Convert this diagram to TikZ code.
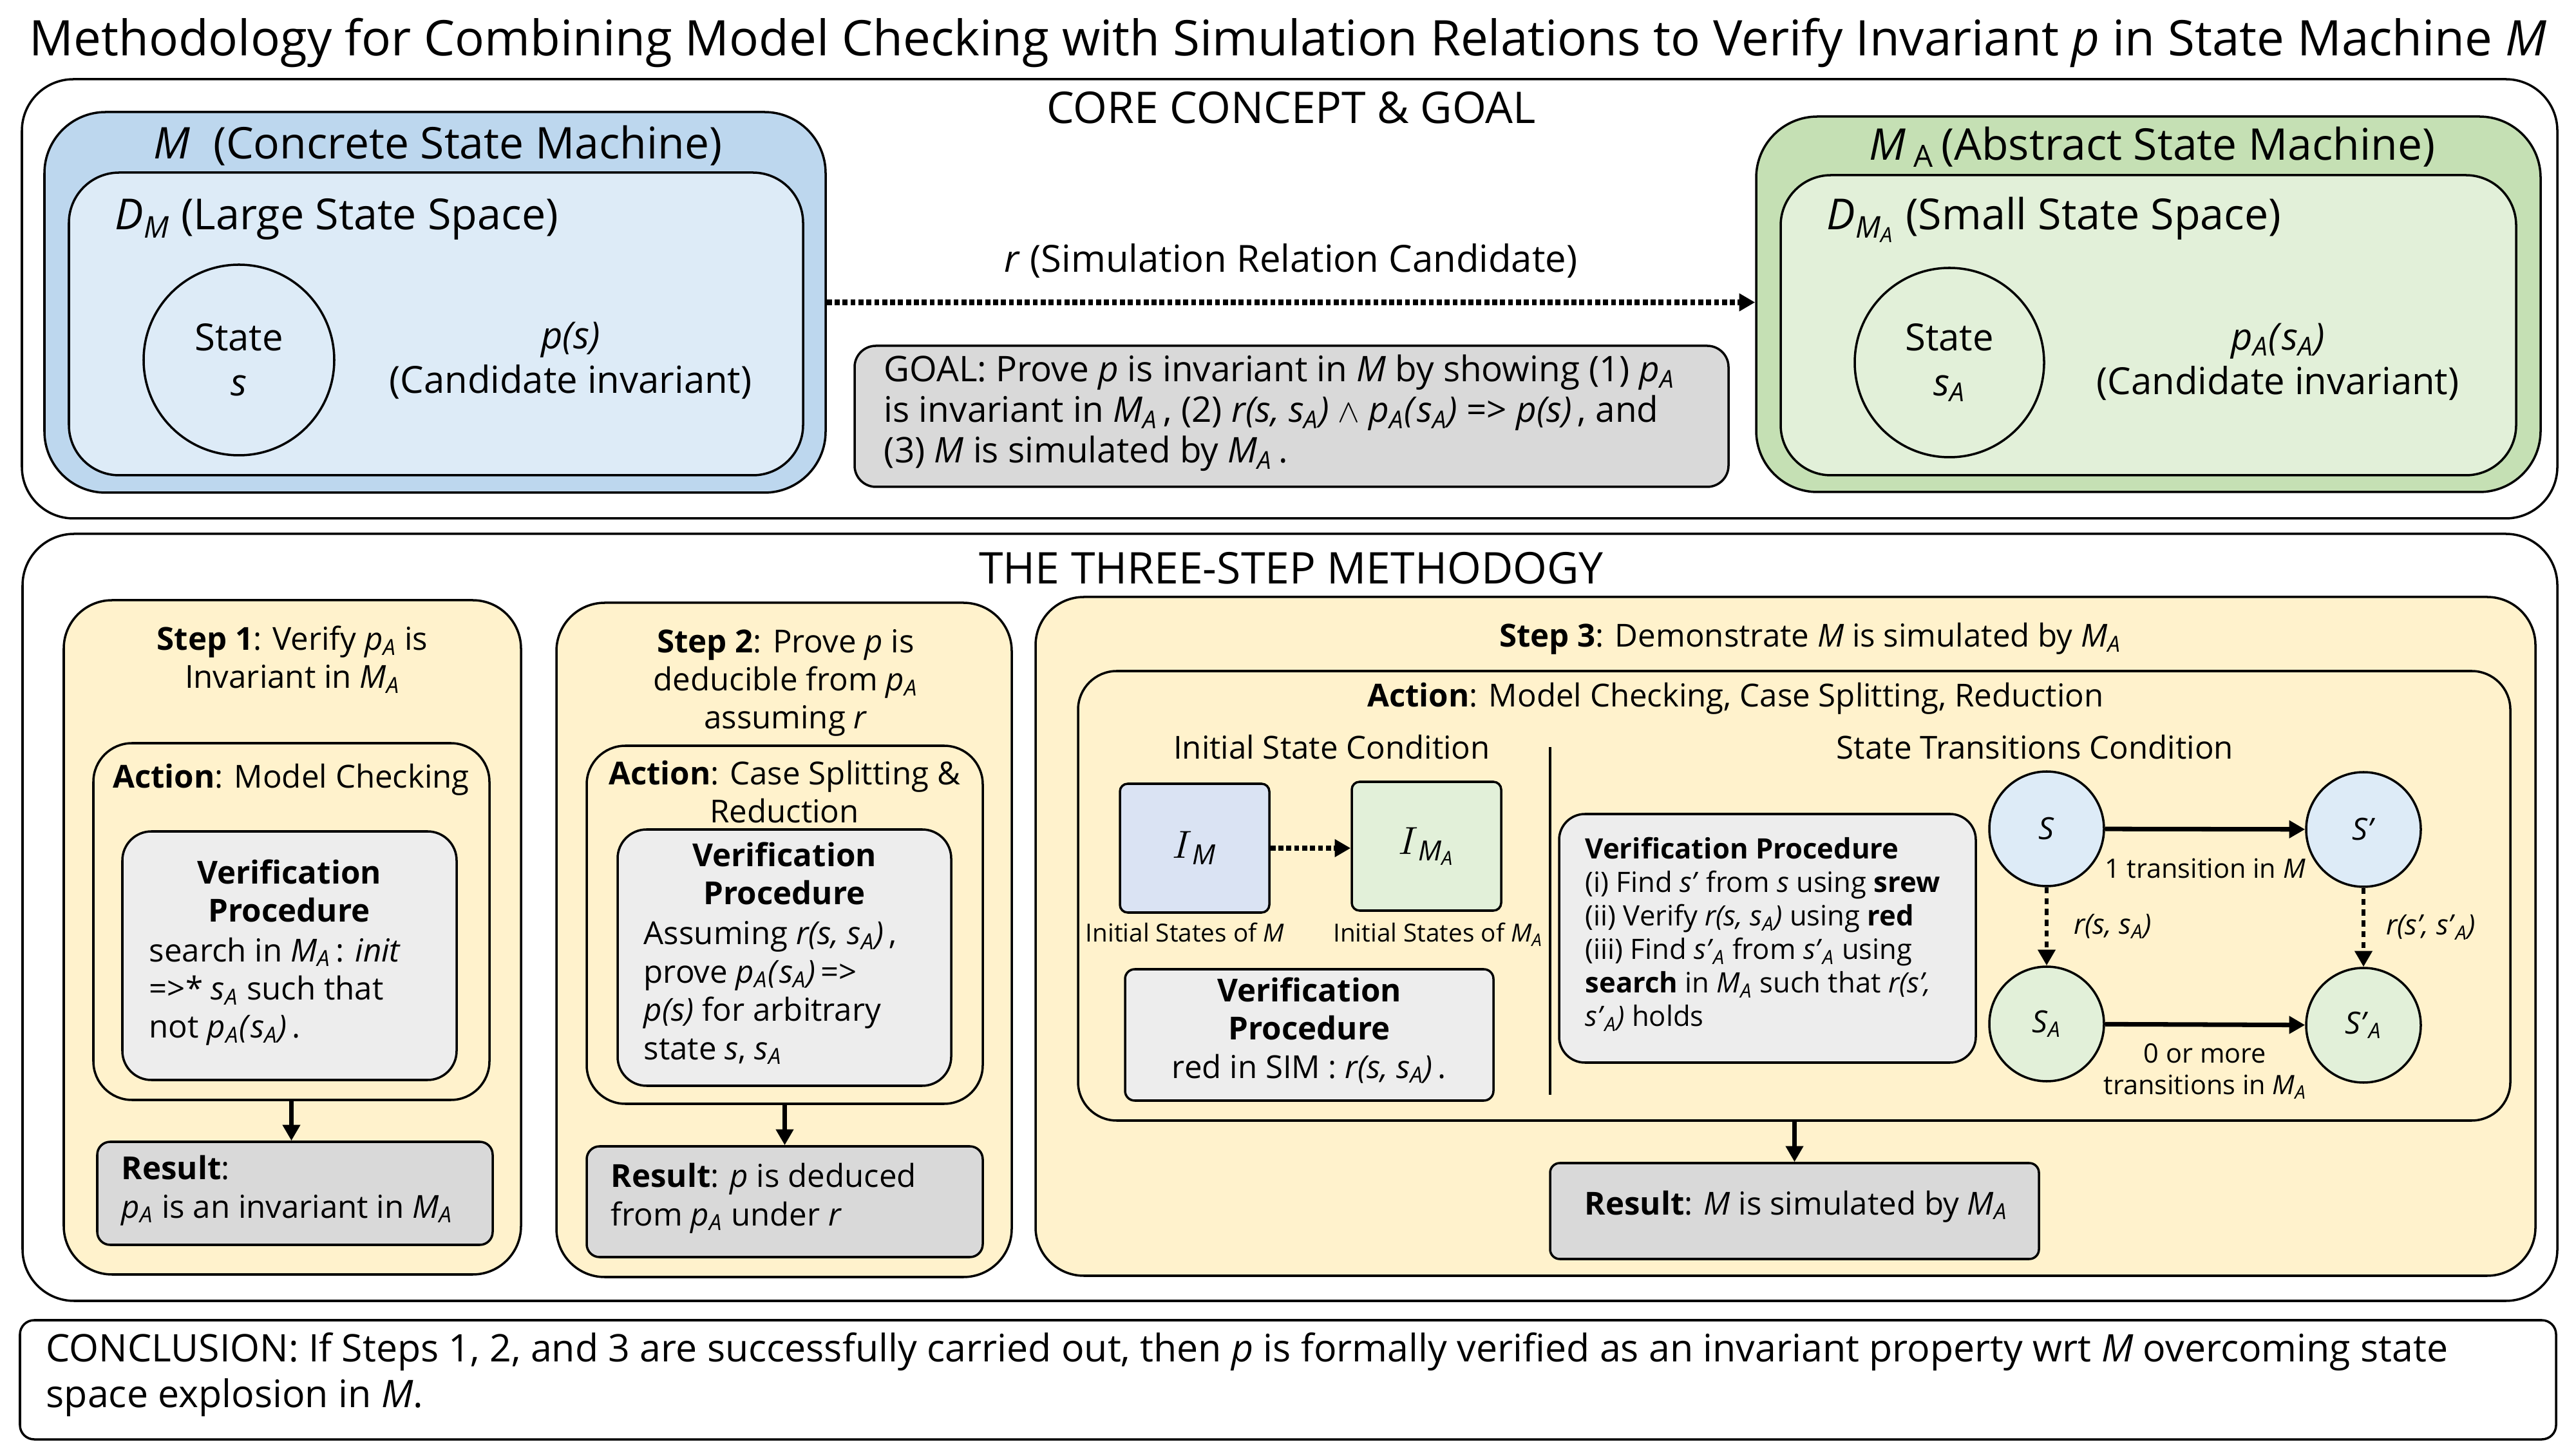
\documentclass[tikz,border=0pt]{standalone}
\usepackage{fontspec}
\setmainfont{Open Sans}
\usepackage{tikz}
\usetikzlibrary{arrows.meta,positioning}

\definecolor{machblue}{HTML}{BDD7EE}
\definecolor{spaceblue}{HTML}{DDEBF7}
\definecolor{machgreen}{HTML}{C5E0B4}
\definecolor{spacegreen}{HTML}{E2F0D9}
\definecolor{stepyellow}{HTML}{FFF2CC}
\definecolor{resultgray}{HTML}{D9D9D9}
\definecolor{procgray}{HTML}{EDEDED}
\definecolor{initblue}{HTML}{DAE3F3}

\newcommand{\MA}{\textit{M}\textsubscript{\textit{A}}}
\newcommand{\pA}{\textit{p}\textsubscript{\textit{A}}}
\newcommand{\sA}{\textit{s}\textsubscript{\textit{A}}}
\newcommand{\rss}{\textit{r(s, }\sA\textit{)}}
\newcommand{\pAsA}{\pA\textit{(}\sA\textit{)}}

\tikzset{
  box/.style={draw, rectangle, line width=1pt, inner sep=0pt},
  txt/.style={inner sep=0pt, anchor=base},
  dotarrow/.style={->, line width=2.5pt, dash pattern=on 2.2pt off 1.3pt},
  f22/.style={font=\fontsize{21.7}{26}\selectfont},
  f19/.style={font=\fontsize{19.3}{23}\selectfont},
  f18/.style={font=\fontsize{18.9}{22.5}\selectfont},
  f16/.style={font=\fontsize{16.5}{19.8}\selectfont},
  f15/.style={font=\fontsize{15.6}{18}\selectfont},
  f14/.style={font=\fontsize{14}{16.9}\selectfont},
  f13/.style={font=\fontsize{13.5}{16}\selectfont},
  f12/.style={font=\fontsize{12.4}{14.8}\selectfont},
  f11/.style={font=\fontsize{11.8}{14}\selectfont},
  f10/.style={font=\fontsize{11}{13}\selectfont},
}

\begin{document}
\begin{tikzpicture}[>={Triangle[length=7pt,width=7.5pt]}, line width=1pt]
\useasboundingbox (0,0) rectangle (40,-22.5);

\node[txt, f22] (title) at (20,-0.87) {Methodology for Combining Model Checking with Simulation Relations to Verify Invariant \textit{p} in State Machine \textit{M}};

\node[box, rounded corners=0.8cm, minimum width=39.37cm, minimum height=6.82cm] (core) at (20.025,-4.64) {};
\node[txt, f19] (coretitle) at (20.05,-1.92) {CORE CONCEPT \& GOAL};

\node[box, rounded corners=0.95cm, fill=machblue, minimum width=12.13cm, minimum height=5.91cm] (mach) at (6.755,-4.695) {};
\node[txt, f19] (machtitle) at (6.8,-2.47) {\textit{M}~ (Concrete State Machine)};
\node[box, rounded corners=0.78cm, fill=spaceblue, minimum width=11.4cm, minimum height=4.7cm] (space) at (6.77,-5.03) {};
\node[txt, f18, anchor=base west] (spacetitle) at (1.77,-3.57) {\textit{D}\textsubscript{\textit{M}} (Large State Space)};
\node[draw, circle, line width=1pt, minimum size=2.96cm, inner sep=0pt, align=center, f16] (state) at (3.71,-5.59) {State\\\textit{s}};
\node[align=center, f16, inner sep=0pt] (inv) at (8.86,-5.6) {\textit{p(s)}\\(Candidate invariant)};

\node[box, rounded corners=0.95cm, fill=machgreen, minimum width=12.18cm, minimum height=5.83cm] (amach) at (33.36,-4.725) {};
\node[txt, f19] (amachtitle) at (33.42,-2.49) {\textit{M}\,\textsubscript{A}\,(Abstract State Machine)};
\node[box, rounded corners=0.78cm, fill=spacegreen, minimum width=11.42cm, minimum height=4.66cm] (aspace) at (33.36,-5.05) {};
\node[txt, f18, anchor=base west] (aspacetitle) at (28.35,-3.57) {\textit{D}\textsubscript{\textit{M}\textsubscript{\textit{A}}} (Small State Space)};
\node[draw, circle, line width=1pt, minimum size=2.94cm, inner sep=0pt, align=center, f16] (astate) at (30.27,-5.63) {State\\\sA};
\node[align=center, f16, inner sep=0pt] (ainv) at (35.37,-5.62) {\pAsA\\(Candidate invariant)};

\draw[dotarrow] (mach.east) -- (mach.east -| amach.west)
  node[midway, above=0.33cm, f16, inner sep=0pt] (rel) {\textit{r} (Simulation Relation Candidate)};

\node[box, rounded corners=0.33cm, fill=resultgray, minimum width=13.57cm, minimum height=2.19cm] (goal) at (20.055,-6.465) {};
\node[txt, f15, anchor=base west, align=left] (goaltext) at (13.71,-7.19) {GOAL: Prove \textit{p} is invariant in \textit{M} by showing (1) \pA\\
is invariant in \MA\,, (2) \rss{} $\wedge$ \pAsA{} => \textit{p(s)}\,, and\\
(3) \textit{M} is simulated by \MA\,.};

\node[box, rounded corners=0.8cm, minimum width=39.36cm, minimum height=11.91cm] (method) at (20.03,-14.245) {};
\node[txt, f19] (methodtitle) at (20.05,-9.07) {THE THREE-STEP METHODOGY};

\node[box, rounded corners=0.75cm, fill=stepyellow, minimum width=7.1cm, minimum height=10.47cm] (step1) at (4.54,-14.555) {};
\node[txt, f14, align=center] (step1title) at (4.54,-10.69) {\textbf{Step 1}: Verify \pA{} is\\Invariant in \MA};
\node[box, rounded corners=0.6cm, fill=stepyellow, minimum width=6.15cm, minimum height=5.54cm] (act1) at (4.525,-14.31) {};
\node[txt, f14] (act1title) at (4.52,-12.24) {\textbf{Action}: Model Checking};
\node[box, rounded corners=0.45cm, fill=procgray, minimum width=5.19cm, minimum height=3.86cm] (proc1) at (4.495,-14.84) {};
\node[txt, f14, align=center] (proc1head) at (4.49,-14.32) {\textbf{Verification}\\\textbf{Procedure}};
\node[txt, f14, anchor=base west, align=left] (proc1body) at (2.30,-16.12) {search in \MA\,: \textit{init}\\=>* \sA{} such that\\not \pAsA\,.};
\node[box, rounded corners=0.2cm, fill=resultgray, minimum width=6.14cm, minimum height=1.6cm] (res1) at (4.58,-18.53) {};
\node[txt, f14, anchor=base west, align=left] (res1text) at (1.87,-18.91) {\textbf{Result}:\\\pA{} is an invariant in \MA};
\draw[->, line width=2pt] (act1.south) -- (act1.south |- res1.north);

\node[box, rounded corners=0.75cm, fill=stepyellow, minimum width=7.07cm, minimum height=10.47cm] (step2) at (12.175,-14.595) {};
\node[txt, f14, align=center] (step2title) at (12.2,-11.32) {\textbf{Step 2}: Prove \textit{p} is\\deducible from \pA\\assuming \textit{r}};
\node[box, rounded corners=0.6cm, fill=stepyellow, minimum width=6.15cm, minimum height=5.56cm] (act2) at (12.185,-14.36) {};
\node[txt, f14, align=center] (act2title) at (12.18,-12.78) {\textbf{Action}: Case Splitting \&\\Reduction};
\node[box, rounded corners=0.45cm, fill=procgray, minimum width=5.18cm, minimum height=3.98cm] (proc2) at (12.18,-14.87) {};
\node[txt, f14, align=center] (proc2head) at (12.18,-14.05) {\textbf{Verification}\\\textbf{Procedure}};
\node[txt, f14, anchor=base west, align=left] (proc2body) at (9.98,-16.45) {Assuming \rss\,,\\prove \pAsA\,=>\\\textit{p(s)} for arbitrary\\state \textit{s}, \sA};
\node[box, rounded corners=0.2cm, fill=resultgray, minimum width=6.15cm, minimum height=1.72cm] (res2) at (12.185,-18.66) {};
\node[txt, f14, anchor=base west, align=left] (res2text) at (9.47,-19.03) {\textbf{Result}: \textit{p} is deduced\\from \pA{} under \textit{r}};
\draw[->, line width=2pt] (act2.south) -- (act2.south |- res2.north);

\node[box, rounded corners=0.75cm, fill=stepyellow, minimum width=23.29cm, minimum height=10.54cm] (step3) at (27.725,-14.54) {};
\node[txt, f14] (step3title) at (28.11,-10.05) {\textbf{Step 3}: Demonstrate \textit{M} is simulated by \MA};
\node[box, rounded corners=0.6cm, fill=stepyellow, minimum width=22.24cm, minimum height=6.98cm] (act3) at (27.86,-13.91) {};
\node[txt, f14] (act3title) at (26.95,-10.98) {\textbf{Action}: Model Checking, Case Splitting, Reduction};
\node[txt, f14] (initcond) at (20.68,-11.79) {Initial State Condition};
\node[txt, f14] (transcond) at (31.60,-11.79) {State Transitions Condition};
\draw (24.07,-11.6) -- (24.07,-17.0);

\node[box, rounded corners=0.12cm, fill=initblue, minimum width=2.32cm, minimum height=2cm, font=\fontsize{17.5}{21}\selectfont] (initM) at (18.55,-13.17) {$I$\textsubscript{\textit{M}}};
\node[box, rounded corners=0.12cm, fill=spacegreen, minimum width=2.32cm, minimum height=2cm, font=\fontsize{17.5}{21}\selectfont] (initMA) at (22.15,-13.14) {$I$\textsubscript{\textit{M}\textsubscript{\textit{A}}}};
\draw[dotarrow] (initM.east) -- (initM.east -| initMA.west);
\node[txt, f10] (initMlabel) at (18.40,-14.63) {Initial States of \textit{M}};
\node[txt, f10] (initMAlabel) at (22.33,-14.63) {Initial States of \MA};
\node[box, rounded corners=0.15cm, fill=procgray, minimum width=5.72cm, minimum height=2.04cm] (proc3a) at (20.33,-16.07) {};
\node[txt, f14, align=center] (proc3atext) at (20.33,-16.74) {\textbf{Verification}\\\textbf{Procedure}\\red in SIM : \rss\,.};

\node[box, rounded corners=0.4cm, fill=procgray, minimum width=6.47cm, minimum height=3.86cm] (proc3b) at (27.445,-14.57) {};
\node[txt, f12, anchor=base west, align=left] (proc3btext) at (24.60,-15.94) {\textbf{Verification Procedure}\\
(i) Find \textit{s'} from \textit{s} using \textbf{srew}\\
(ii) Verify \rss{} using \textbf{red}\\
(iii) Find \textit{s'}\textsubscript{\textit{A}} from \textit{s'}\textsubscript{\textit{A}} using\\
\textbf{search} in \MA{} such that \textit{r(s',}\\
\textit{s'}\textsubscript{\textit{A}}\textit{)} holds};

\node[draw, circle, line width=1pt, fill=spaceblue, minimum size=1.78cm, inner sep=0pt, f13] (s) at (31.78,-12.87) {\textit{S}};
\node[draw, circle, line width=1pt, fill=spaceblue, minimum size=1.78cm, inner sep=0pt, f13] (s2) at (36.70,-12.88) {\textit{S'}};
\node[draw, circle, line width=1pt, fill=spacegreen, minimum size=1.78cm, inner sep=0pt, f13] (sa) at (31.78,-15.90) {\textit{S}\textsubscript{\textit{A}}};
\node[draw, circle, line width=1pt, fill=spacegreen, minimum size=1.78cm, inner sep=0pt, f13] (sa2) at (36.70,-15.92) {\textit{S'}\textsubscript{\textit{A}}};
\draw[->, line width=2pt] (s) -- (s2) node[midway, below=0.42cm, f11, inner sep=0pt] {1 transition in \textit{M}};
\draw[->, line width=2pt] (sa) -- (sa2) node[midway, below=0.26cm, f11, inner sep=0pt, align=center] {0 or more\\transitions in \MA};
\draw[->, line width=1.8pt, dash pattern=on 2.6pt off 2.2pt] (s) -- (sa) node[midway, right=0.39cm, f12, inner sep=0pt] {\rss};
\draw[->, line width=1.8pt, dash pattern=on 2.6pt off 2.2pt] (s2) -- (sa2) node[midway, right=0.32cm, f12, inner sep=0pt] {\textit{r(s', s'}\textsubscript{\textit{A}}\textit{)}};

\node[box, rounded corners=0.15cm, fill=resultgray, minimum width=7.59cm, minimum height=1.49cm] (res3) at (27.865,-18.805) {};
\node[txt, f14] (res3text) at (27.89,-18.86) {\textbf{Result}: \textit{M} is simulated by \MA};
\draw[->, line width=2pt] (act3.south -| res3.north) -- (res3.north);

\node[box, rounded corners=0.22cm, minimum width=39.38cm, minimum height=1.85cm] (concl) at (20,-21.425) {};
\node[txt, font=\fontsize{16.8}{20}\selectfont, anchor=base west, align=left] (concltext) at (0.70,-21.85) {CONCLUSION: If Steps 1, 2, and 3 are successfully carried out, then \textit{p} is formally verified as an invariant property wrt \textit{M} overcoming state\\space explosion in \textit{M}.};
\end{tikzpicture}
\end{document}
